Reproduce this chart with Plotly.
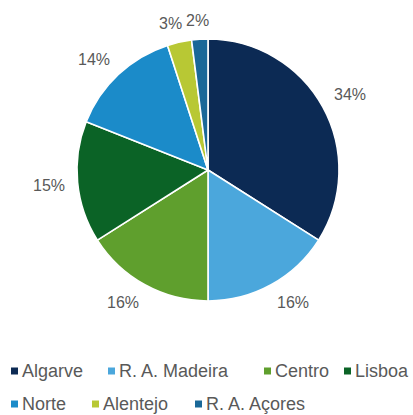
import math
import plotly.graph_objects as go

# Share of each region (percent)
regions = ["Algarve", "R. A. Madeira", "Centro", "Lisboa", "Norte", "Alentejo", "R. A. Açores"]
shares = [34, 16, 16, 15, 14, 3, 2]
colors = ["#0c2a54", "#4ba7dc", "#5f9f2d", "#0b6326", "#1b8bc9", "#b8c834", "#1a6898"]

W, H = 413, 415
CX, CY, R = 208, 170, 131          # pie centre and radius in pixels
FONT = "Liberation Sans, Arial, sans-serif"
GREY = "#595959"

fig = go.Figure(go.Pie(
    labels=regions,
    values=shares,
    sort=False,
    direction="clockwise",
    rotation=0,
    marker=dict(colors=colors, line=dict(color="white", width=1.6)),
    textinfo="none",
    hoverinfo="label+percent",
    showlegend=False,
    domain=dict(x=[(CX - R) / W, (CX + R) / W],
                y=[(H - CY - R) / H, (H - CY + R) / H]),
))


def clamp(t):
    return max(-1.0, min(1.0, t))


# Percentage labels outside each slice: the label box is anchored by its
# nearest corner to a point a little beyond the rim at the slice's mid angle
annotations = []
total = sum(shares)
cum = 0
LABEL_SIZE = 16
for v in shares:
    mid = (cum + v / 2) / total * 2 * math.pi
    cum += v
    ux, uy = math.sin(mid), -math.cos(mid)
    txt = f"{round(v / total * 100)}%"
    half_w = 0.33 * LABEL_SIZE * len(txt)
    half_h = 6
    dist = R + 13
    px = CX + ux * dist + clamp(ux / 0.35) * half_w
    py = CY + uy * dist + clamp(uy / 0.35) * half_h
    annotations.append(dict(
        x=px / W, y=1 - py / H, xref="paper", yref="paper",
        text=txt, showarrow=False, xanchor="center", yanchor="middle",
        font=dict(family=FONT, size=LABEL_SIZE, color=GREY),
    ))

# Legend laid out in two rows under the pie
legend_rows = [[0, 1, 2, 3], [4, 5, 6]]
row_y = [371, 404]
text_left = [[23, 120, 276, 356], [23, 104, 207]]
KEY = 7
shapes = []
for r, row in enumerate(legend_rows):
    for k, idx in enumerate(row):
        x0 = text_left[r][k] - 12
        y0 = row_y[r] - KEY / 2
        shapes.append(dict(
            type="rect", xref="paper", yref="paper",
            x0=x0 / W, x1=(x0 + KEY) / W,
            y0=1 - (y0 + KEY) / H, y1=1 - y0 / H,
            fillcolor=colors[idx], line=dict(width=0),
        ))
        annotations.append(dict(
            x=(text_left[r][k] - 3) / W, y=1 - row_y[r] / H, xref="paper", yref="paper",
            text=regions[idx], showarrow=False, xanchor="left", yanchor="middle",
            font=dict(family=FONT, size=18, color=GREY),
        ))

fig.update_layout(
    width=W, height=H,
    margin=dict(l=0, r=0, t=0, b=0),
    paper_bgcolor="white",
    plot_bgcolor="white",
    annotations=annotations,
    shapes=shapes,
)

fig.write_html("out.html")
